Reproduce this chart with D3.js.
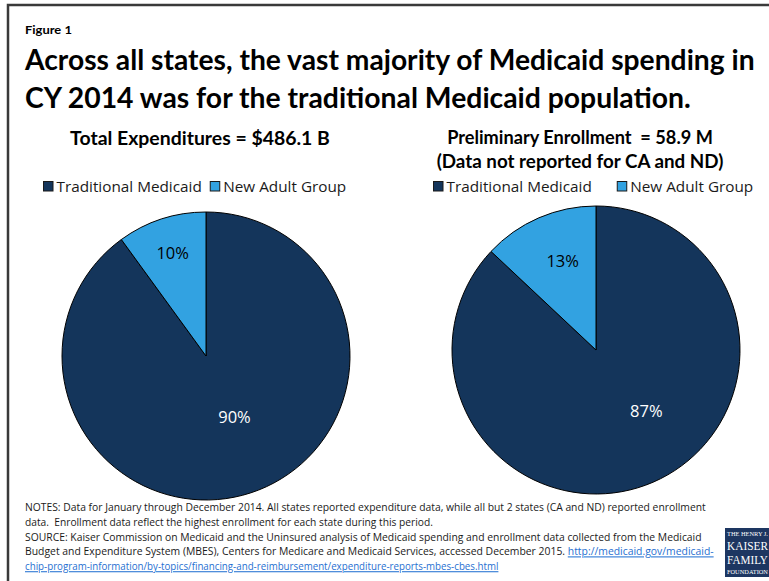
<!DOCTYPE html>
<html>
<head>
<meta charset="utf-8">
<script src="https://cdn.jsdelivr.net/npm/d3@7"></script>
<style>
  html, body { margin: 0; padding: 0; background: #ffffff; }
  svg { display: block; }
  text { white-space: pre; }
</style>
</head>
<body>
<svg id="chart" width="769" height="581"></svg>
<script>
// Medicaid spending and enrollment, CY 2014
const categories = ["Traditional Medicaid", "New Adult Group"];
const spendingShare = [90, 10];      // % of total expenditures
const enrollmentShare = [87, 13];    // % of preliminary enrollment
const panelTitles = [
  ["Total Expenditures = $486.1 B"],
  ["Preliminary Enrollment  = 58.9 M", "(Data not reported for CA and ND)"]
];
const titleLines = [
  "Across all states, the vast majority of Medicaid spending in",
  "CY 2014 was for the traditional Medicaid population."
];
const noteLines = [
  [{t: "NOTES: Data for January through December 2014. All states reported expenditure data, while all but 2 states (CA and ND) reported enrollment"}],
  [{t: "data.  Enrollment data reflect the highest enrollment for each state during this period."}],
  [{t: "SOURCE: Kaiser Commission on Medicaid and the Uninsured analysis of Medicaid spending and enrollment data collected from the Medicaid"}],
  [{t: "Budget and Expenditure System (MBES), Centers for Medicare and Medicaid Services, accessed December 2015. "},
   {t: "http://medicaid.gov/medicaid-", link: true}],
  [{t: "chip-program-information/by-topics/financing-and-reimbursement/expenditure-reports-mbes-cbes.html", link: true}]
];

const colors = d3.scaleOrdinal().domain(categories).range(["#14355b", "#32a2e1"]);
const svg = d3.select("#chart");
const sansBold = "Lato, 'Open Sans', sans-serif";
const sans = "'Open Sans', 'Noto Sans', sans-serif";

// Squeeze a text horizontally to a given width, anchored at its x/y.
function fitWidth(sel, width) {
  const natural = sel.node().getComputedTextLength();
  const x = +sel.attr("x"), y = +sel.attr("y");
  sel.attr("x", 0).attr("y", 0)
    .attr("transform", `translate(${x},${y}) scale(${width / natural},1)`);
  return sel;
}

// frame
svg.append("path")
  .attr("d", "M8,600 V5 H780")
  .attr("fill", "none").attr("stroke", "#3a3a3a").attr("stroke-width", 2.5);

// heading
fitWidth(svg.append("text").attr("x", 25).attr("y", 34)
  .attr("font-family", sansBold).attr("font-weight", 700).attr("font-size", 12)
  .text("Figure 1"), 47);

const titleWidths = [730, 666];
titleLines.forEach((line, i) => {
  fitWidth(svg.append("text").attr("x", 25).attr("y", 70 + i * 38)
    .attr("font-family", sansBold).attr("font-weight", 700).attr("font-size", 29)
    .attr("fill", "#000")
    .text(line), titleWidths[i]);
});

// panels
const panels = [
  {data: spendingShare, cx: 206, cy: 356, titleX: 200, titleY: [145], titleW: [260],
   legendX: 43, legendGap: 8, labelR: [0.75, 0.47], labelAngle: [0, -0.12]},
  {data: enrollmentShare, cx: 596, cy: 350, titleX: 580, titleY: [144, 168], titleW: [266, 287],
   legendX: 433, legendGap: 25, labelR: [0.66, 0.55], labelAngle: [0.05, -0.28]}
];
const radius = 144;
const pie = d3.pie().sort(null).value(d => d.v);
const arc = d3.arc().innerRadius(0).outerRadius(radius);

panels.forEach((p, pi) => {
  const g = svg.append("g");

  panelTitles[pi].forEach((line, li) => {
    fitWidth(g.append("text").attr("x", p.titleX).attr("y", p.titleY[li])
      .attr("text-anchor", "middle")
      .attr("font-family", sansBold).attr("font-weight", 700).attr("font-size", 18)
      .text(line), p.titleW[li]);
  });

  // legend
  const lg = g.append("g").attr("transform", `translate(${p.legendX},181)`);
  let x = 0;
  categories.forEach((c, ci) => {
    lg.append("rect").attr("x", x + 0.5).attr("y", 0.5).attr("width", 9.5).attr("height", 9.5)
      .attr("fill", colors(c)).attr("stroke", "#1a1a1a").attr("stroke-width", 1);
    const txt = lg.append("text").attr("x", x + 13.5).attr("y", 10.5)
      .attr("font-family", sans).attr("font-size", 15.3).attr("fill", "#1a1a1a")
      .text(c);
    x += 13.5 + txt.node().getComputedTextLength() + p.legendGap;
  });

  // pie
  const arcs = pie(p.data.map((v, i) => ({v, c: categories[i]})));
  const pg = g.append("g").attr("transform", `translate(${p.cx},${p.cy})`);
  pg.selectAll("path").data(arcs).join("path")
    .attr("d", arc)
    .attr("fill", d => colors(d.data.c))
    .attr("stroke", "#000").attr("stroke-width", 1);

  // value labels: small slice near the rim, large slice nearer the centre
  pg.selectAll("text").data(arcs).join("text")
    .each(function(d) {
      const big = d.index === 0;
      const a = (d.startAngle + d.endAngle) / 2 + (big ? p.labelAngle[1] : p.labelAngle[0]);
      const r = radius * (big ? p.labelR[1] : p.labelR[0]);
      d3.select(this)
        .attr("x", Math.sin(a) * r)
        .attr("y", -Math.cos(a) * r)
        .attr("dy", "0.35em");
    })
    .attr("text-anchor", "middle")
    .attr("font-family", sans).attr("font-size", 16.5)
    .attr("fill", d => d.index === 0 ? "#ffffff" : "#000000")
    .text(d => d.data.v + "%");
});

// notes
const notes = svg.append("g");
const noteWidths = [681, 408, 677, 688, 473];
noteLines.forEach((parts, li) => {
  const t = notes.append("text").attr("x", 25).attr("y", 511 + li * 14.8)
    .attr("font-family", sans).attr("font-size", 10.2).attr("fill", "#1a1a1a");
  parts.forEach(part => {
    const s = t.append("tspan").text(part.t);
    if (part.link) s.attr("fill", "#1f6fd1").attr("text-decoration", "underline");
  });
  if (noteWidths[li]) fitWidth(t, noteWidths[li]);
});

// foundation logo
const logo = svg.append("g").attr("transform", "translate(725,528)");
logo.append("rect").attr("width", 60).attr("height", 49).attr("fill", "#1d3661");
const serif = "'Liberation Serif', 'DejaVu Serif', serif";
[["THE HENRY J.", 8, 5.5], ["KAISER", 22, 13.5], ["FAMILY", 36, 13.5], ["FOUNDATION", 46, 5.5]]
  .forEach(([label, y, size]) => {
    fitWidth(logo.append("text").attr("x", 2).attr("y", y)
      .attr("font-family", serif).attr("font-size", size).attr("fill", "#fff")
      .text(label), 41);
  });
</script>
</body>
</html>
